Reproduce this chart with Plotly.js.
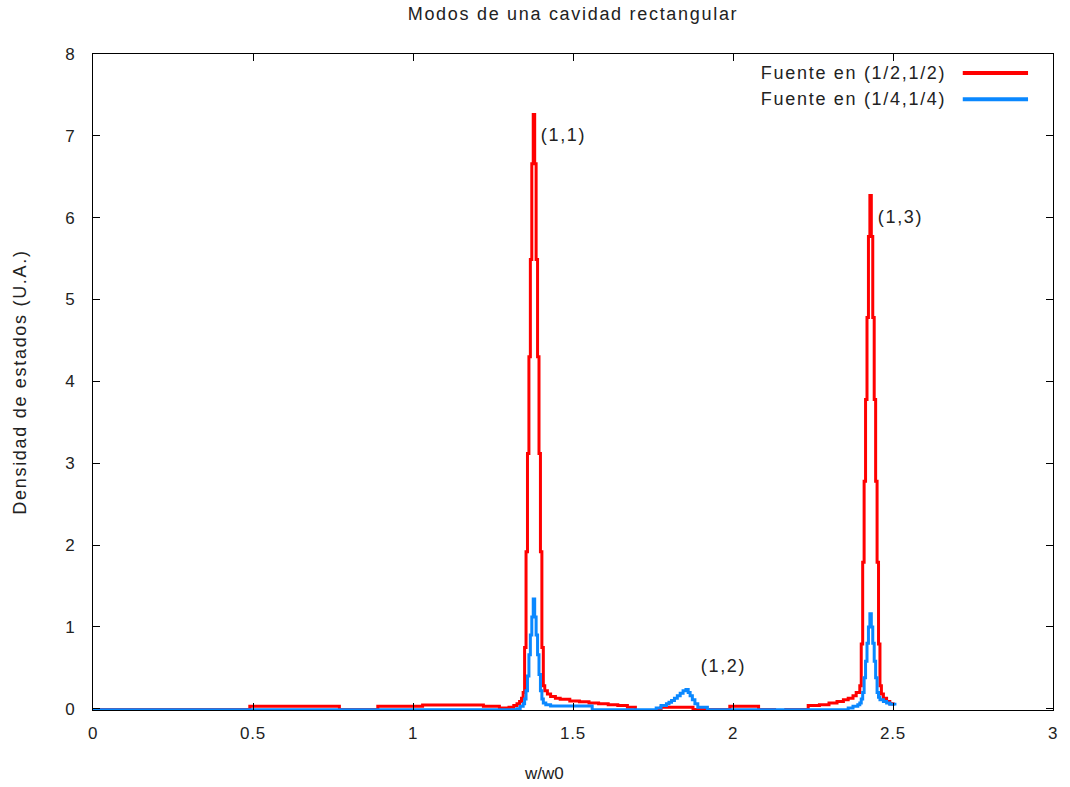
<!DOCTYPE html>
<html>
<head>
<meta charset="utf-8">
<script src="https://cdn.plot.ly/plotly-3.0.1.min.js"></script>
<style>
html,body{margin:0;padding:0;background:#fff;}
#chart{width:1070px;height:787px;}
#chart .gtitle, #chart .ytitle {letter-spacing:1.7px;}
#chart g.annotation:not([data-index="3"]) .annotation-text {letter-spacing:1.7px;}
#chart .xtick text {letter-spacing:0.8px;}
</style>
</head>
<body>
<div id="chart"></div>
<script>
// ---- data ----
const seriesNames = ["Fuente en (1/2,1/2)", "Fuente en (1/4,1/4)"];
const seriesColors = ["#ff0000", "#0a88ff"];

const xRed = [0, 0.49, 0.77, 0.89, 1.03, 1.22, 1.27, 1.30, 1.315, 1.325, 1.333, 1.339,
  1.34425, 1.34875, 1.35325, 1.35775, 1.36225, 1.36675, 1.37125, 1.37575, 1.38025, 1.38475,
  1.38925, 1.39375, 1.39825, 1.40275, 1.40725, 1.41175, 1.42, 1.43, 1.445, 1.46, 1.49, 1.52,
  1.55, 1.58, 1.61, 1.64, 1.67, 1.695, 1.775, 1.875, 1.99, 2.08, 2.13, 2.165, 2.235, 2.27,
  2.30, 2.325, 2.345, 2.36, 2.375, 2.385, 2.39625, 2.40075, 2.40525, 2.40975, 2.41425,
  2.41875, 2.42325, 2.42775, 2.43225, 2.43675, 2.44125, 2.44575, 2.45025, 2.45475, 2.45925,
  2.46375, 2.47, 2.48, 2.49, 2.5];
const yRed = [-0.01, 0.03, -0.01, 0.03, 0.045, 0.03, 0.01, 0.02, 0.04, 0.06, 0.09, 0.13,
  0.2, 0.75, 1.92, 3.12, 4.30, 5.49, 6.66, 7.26, 6.66, 5.49,
  4.30, 3.12, 1.92, 0.75, 0.28, 0.22, 0.18, 0.15, 0.13, 0.115, 0.095, 0.085,
  0.07, 0.06, 0.05, 0.04, 0.02, -0.02, 0.02, -0.01, 0.03, -0.01, -0.03, -0.01, 0.04, 0.05,
  0.07, 0.09, 0.11, 0.13, 0.16, 0.2, 0.28, 0.79, 1.79, 2.78, 3.78,
  4.78, 5.77, 6.27, 5.77, 4.78, 3.78, 2.78, 1.79, 0.79, 0.28,
  0.18, 0.13, 0.09, 0.06, 0.04];

const xBlue = [0, 1.325, 1.335, 1.34425, 1.34875, 1.35325, 1.35775, 1.36225, 1.36675, 1.37125,
  1.37575, 1.38025, 1.38475, 1.38925, 1.39375, 1.39825, 1.40275, 1.40725, 1.415, 1.43, 1.56,
  1.76, 1.775, 1.792, 1.80, 1.808, 1.817, 1.826, 1.835, 1.844, 1.853, 1.86, 1.866, 1.873,
  1.881, 1.89, 1.92, 2.36, 2.375, 2.39, 2.39625, 2.40075, 2.40525, 2.40975, 2.41425, 2.41875,
  2.42325, 2.42775, 2.43225, 2.43675, 2.44125, 2.44575, 2.45025, 2.45475, 2.45925, 2.47,
  2.48, 2.49, 2.506];
const yBlue = [-0.012, 0.0, 0.03, 0.06, 0.12, 0.22, 0.40, 0.66, 0.90, 1.12,
  1.34, 1.12, 0.90, 0.66, 0.42, 0.22, 0.12, 0.07, 0.05, 0.035, -0.012,
  0.01, 0.04, 0.06, 0.08, 0.10, 0.13, 0.16, 0.19, 0.22, 0.235, 0.2, 0.16, 0.11,
  0.06, 0.02, -0.012, 0.01, 0.03, 0.05, 0.07, 0.12, 0.2, 0.38, 0.58, 0.8,
  1.0, 1.16, 1.0, 0.8, 0.58, 0.38, 0.2, 0.14, 0.11, 0.09,
  0.07, 0.055, 0.04];

const peakLabels = ["(1,1)", "(1,2)", "(1,3)"];
const peakLabelX = [1.469, 1.969, 2.522];
const peakLabelY = [7.01, 0.52, 6.01];

const xTickVals = [0, 0.5, 1, 1.5, 2, 2.5, 3];
const yTickVals = [0, 1, 2, 3, 4, 5, 6, 7, 8];
const xTitle = "w/w0";
const yTitle = "Densidad de estados (U.A.)";
const chartTitle = "Modos de una cavidad rectangular";

// ---- chart ----
const FONT = "Liberation Sans, Arial, sans-serif";
const TXT = "#222222";
const BIG = 18;

const traces = [
  {x: xRed, y: yRed, name: seriesNames[0], type: "scatter", mode: "lines",
   line: {color: seriesColors[0], width: 3, shape: "hv"}, showlegend: false},
  {x: xBlue, y: yBlue, name: seriesNames[1], type: "scatter", mode: "lines",
   line: {color: seriesColors[1], width: 3, shape: "hv"}, showlegend: false}
];

const annotations = peakLabels.map((t, i) => ({
  x: peakLabelX[i], y: peakLabelY[i], xref: "x", yref: "y", text: t, showarrow: false,
  xanchor: "center", yanchor: "middle", font: {family: FONT, size: BIG, color: TXT}
}));

// x-axis title placed as in the reference (slightly left of centre); index 3
annotations.push({x: 0.47, y: (710 - 773) / 656, xref: "paper", yref: "paper", text: xTitle,
  showarrow: false, xanchor: "center", yanchor: "middle",
  font: {family: FONT, size: 17, color: TXT}});

// legend (gnuplot style: text right-aligned, sample line on the right)
const legendY = [0.971, 0.931];
const shapes = [];
seriesNames.forEach((n, i) => {
  annotations.push({x: 0.874, y: legendY[i], xref: "paper", yref: "paper", text: n,
    showarrow: false, xanchor: "right", yanchor: "middle",
    font: {family: FONT, size: BIG, color: TXT}});
  shapes.push({type: "line", xref: "paper", yref: "paper", x0: 0.906, x1: 0.974,
    y0: legendY[i], y1: legendY[i], line: {color: seriesColors[i], width: 4}});
});

const layout = {
  width: 1070, height: 787,
  margin: {l: 93, r: 17, t: 54, b: 77},
  paper_bgcolor: "#ffffff", plot_bgcolor: "#ffffff",
  font: {family: FONT, size: 17, color: TXT},
  title: {text: chartTitle, x: 0.5, xref: "paper",
    y: 0.982, yref: "container", yanchor: "middle",
    font: {family: FONT, size: BIG, color: TXT}},
  xaxis: {range: [0, 3], tickvals: xTickVals, ticks: "inside", ticklen: 7, tickcolor: "#000",
    showline: true, linecolor: "#000", linewidth: 1, mirror: "allticks",
    showgrid: false, zeroline: false, ticklabelstandoff: 8,
    tickfont: {family: FONT, size: 17, color: TXT}},
  yaxis: {range: [-0.015, 8], tickvals: yTickVals, ticks: "inside", ticklen: 7, tickcolor: "#000",
    showline: true, linecolor: "#000", linewidth: 1, mirror: "allticks",
    showgrid: false, zeroline: false, ticklabelstandoff: 14,
    tickfont: {family: FONT, size: 17, color: TXT},
    title: {text: yTitle, standoff: 33, font: {family: FONT, size: BIG, color: TXT}}},
  annotations: annotations,
  shapes: shapes
};

Plotly.newPlot("chart", traces, layout, {displayModeBar: false, staticPlot: true});
</script>
</body>
</html>
